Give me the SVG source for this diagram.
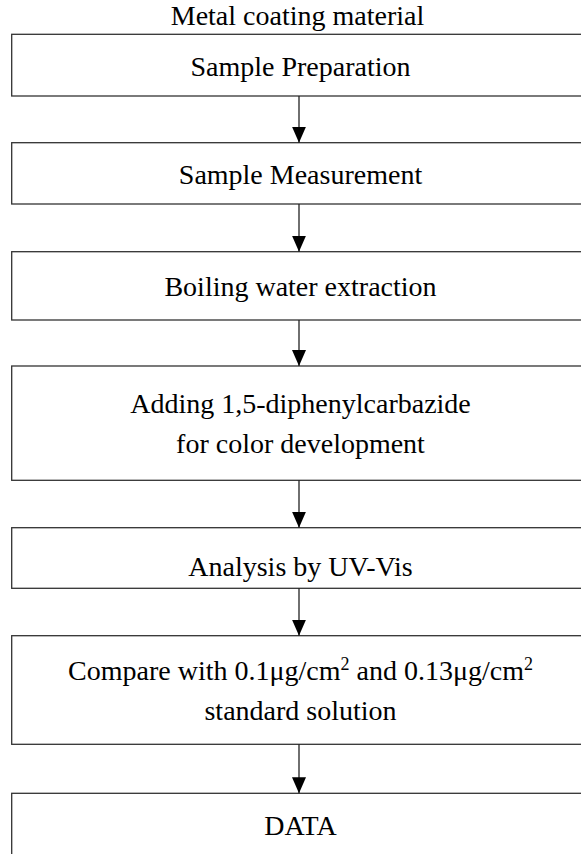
<svg xmlns="http://www.w3.org/2000/svg" width="581" height="854" viewBox="0 0 581 854">
  <style>
    .box { fill: #ffffff; stroke: #333333; stroke-width: 1.3; }
    .lbl { font-family: "Liberation Serif", "Times New Roman", serif; font-size: 28px; fill: #000000; text-anchor: middle; }
    .sup { font-size: 18px; }
    .conn { stroke: #222222; stroke-width: 1.3; fill: none; marker-end: url(#ah); }
  </style>
  <defs>
    <marker id="ah" markerUnits="userSpaceOnUse" markerWidth="16" markerHeight="14" refX="16" refY="7" orient="auto">
      <path d="M0,0 L16,7 L0,14 z" fill="#000000"/>
    </marker>
  </defs>
  <rect x="0" y="0" width="581" height="854" fill="#ffffff"/>

  <text id="title" class="lbl" x="297.5" y="25">Metal coating material</text>

  <g id="n1">
    <rect class="box" x="11.7" y="34.3" width="600" height="61.7"/>
    <text class="lbl" x="300.5" y="76">Sample Preparation</text>
  </g>
  <g id="n2">
    <rect class="box" x="11.7" y="142.7" width="600" height="61.3"/>
    <text class="lbl" x="300.5" y="183.5">Sample Measurement</text>
  </g>
  <g id="n3">
    <rect class="box" x="11.7" y="251.7" width="600" height="68.3"/>
    <text class="lbl" x="300.5" y="295.5">Boiling water extraction</text>
  </g>
  <g id="n4">
    <rect class="box" x="11.7" y="366" width="600" height="114.3"/>
    <text class="lbl" x="300.5" y="413.3">Adding 1,5-diphenylcarbazide</text>
    <text class="lbl" x="300.5" y="453.3">for color development</text>
  </g>
  <g id="n5">
    <rect class="box" x="11.7" y="527.7" width="600" height="60.6"/>
    <text class="lbl" x="300.5" y="576">Analysis by UV-Vis</text>
  </g>
  <g id="n6">
    <rect class="box" x="11.7" y="635.7" width="600" height="108.6"/>
    <text class="lbl" x="300.5" y="680">Compare with 0.1μg/cm<tspan class="sup" dy="-10">2</tspan><tspan dy="10"> and 0.13μg/cm</tspan><tspan class="sup" dy="-10">2</tspan></text>
    <text class="lbl" x="300.5" y="720">standard solution</text>
  </g>
  <g id="n7">
    <rect class="box" x="11.7" y="793.3" width="600" height="64"/>
    <text class="lbl" x="300.5" y="835">DATA</text>
  </g>

  <g id="connectors">
    <line class="conn" x1="299" y1="96" x2="299" y2="142.7"/>
    <line class="conn" x1="299" y1="204" x2="299" y2="251.7"/>
    <line class="conn" x1="299" y1="320" x2="299" y2="366"/>
    <line class="conn" x1="299" y1="480.3" x2="299" y2="527.7"/>
    <line class="conn" x1="299" y1="588.3" x2="299" y2="635.7"/>
    <line class="conn" x1="299" y1="744.3" x2="299" y2="793.3"/>
  </g>
</svg>
